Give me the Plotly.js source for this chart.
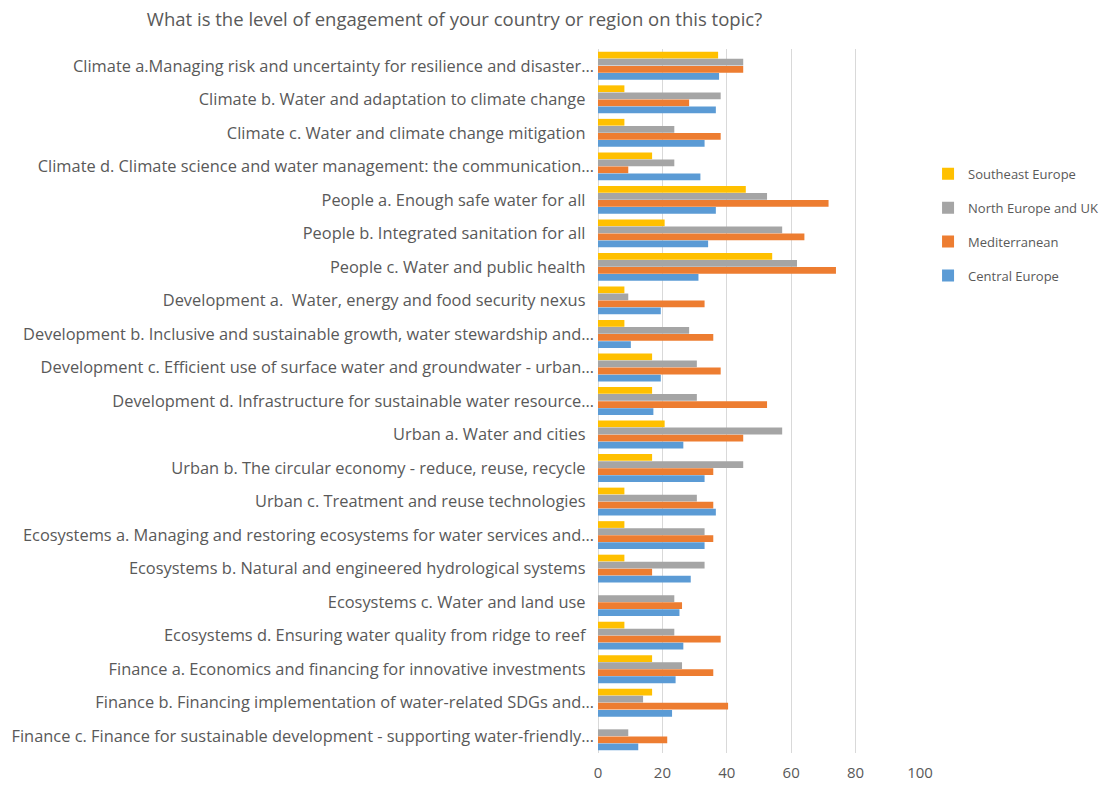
<!DOCTYPE html>
<html>
<head>
<meta charset="utf-8">
<script src="https://cdn.plot.ly/plotly-3.0.1.min.js"></script>
<style>
  html, body { margin: 0; padding: 0; background: #ffffff; }
  #chart { width: 1114px; height: 785px; }
</style>
</head>
<body>
<div id="chart"></div>
<script>
const categories = [
  "Climate a.Managing risk and uncertainty for resilience and disaster…",
  "Climate b. Water and adaptation to climate change\u00a0\u00a0",
  "Climate c. Water and climate change mitigation\u00a0\u00a0",
  "Climate d. Climate science and water management: the communication…",
  "People a. Enough safe water for all\u00a0\u00a0",
  "People b. Integrated sanitation for all\u00a0\u00a0",
  "People c. Water and public health\u00a0\u00a0",
  "Development a.  Water, energy and food security nexus\u00a0\u00a0",
  "Development b. Inclusive and sustainable growth, water stewardship and…",
  "Development c. Efficient use of surface water and groundwater - urban…",
  "Development d. Infrastructure for sustainable water resource…",
  "Urban a. Water and cities\u00a0\u00a0",
  "Urban b. The circular economy - reduce, reuse, recycle\u00a0\u00a0",
  "Urban c. Treatment and reuse technologies\u00a0\u00a0",
  "Ecosystems a. Managing and restoring ecosystems for water services and…",
  "Ecosystems b. Natural and engineered hydrological systems\u00a0\u00a0",
  "Ecosystems c. Water and land use\u00a0\u00a0",
  "Ecosystems d. Ensuring water quality from ridge to reef\u00a0\u00a0",
  "Finance a. Economics and financing for innovative investments\u00a0\u00a0",
  "Finance b. Financing implementation of water-related SDGs and…",
  "Finance c. Finance for sustainable development - supporting water-friendly…"
];

const seriesNames = ["Southeast Europe", "North Europe and UK", "Mediterranean", "Central Europe"];

const southeastEurope = [37.3, 8.2, 8.2, 16.8, 45.9, 20.7, 54.1, 8.2, 8.2, 16.8, 16.8, 20.7, 16.8, 8.2, 8.2, 8.2, 0, 8.2, 16.8, 16.8, 0];
const northEuropeUK   = [45.1, 38.1, 23.7, 23.7, 52.5, 57.2, 61.8, 9.4, 28.3, 30.7, 30.7, 57.2, 45.1, 30.7, 33.1, 33.1, 23.7, 23.7, 26.1, 14.0, 9.4];
const mediterranean   = [45.1, 28.3, 38.1, 9.4, 71.6, 64.1, 73.9, 33.1, 35.8, 38.1, 52.5, 45.1, 35.8, 35.8, 35.8, 16.8, 26.1, 38.1, 35.8, 40.4, 21.5];
const centralEurope   = [37.6, 36.6, 33.1, 31.8, 36.6, 34.2, 31.2, 19.5, 10.2, 19.5, 17.2, 26.5, 33.1, 36.6, 33.1, 28.8, 25.3, 26.5, 24.1, 23.0, 12.5];

const xTickValues = [0, 20, 40, 60, 80, 100];

const seriesValues = [southeastEurope, northEuropeUK, mediterranean, centralEurope];
const seriesColors = ["#FFC000", "#A5A5A5", "#ED7D31", "#5B9BD5"];

const fontFamily = "'Open Sans', Lato, sans-serif";
const textColor = "#595959";

const traces = seriesNames.map((name, i) => ({
  type: "bar",
  orientation: "h",
  name: name,
  x: seriesValues[i],
  y: categories,
  marker: { color: seriesColors[i] },
  legendgroup: "g" + i,
  hoverinfo: "x+name"
}));

const layout = {
  width: 1114,
  height: 785,
  paper_bgcolor: "#ffffff",
  plot_bgcolor: "#ffffff",
  margin: { l: 598, r: 194, t: 49, b: 32, autoexpand: false },
  barmode: "group",
  bargap: 0.16,
  bargroupgap: 0.04,
  font: { family: fontFamily, color: textColor, size: 14 },
  title: {
    text: "What is the level of engagement of your country or region on this topic?",
    font: { family: fontFamily, size: 18.5, color: textColor },
    xref: "container",
    x: 0.408,
    xanchor: "center",
    yref: "container",
    y: 0.975,
    yanchor: "middle"
  },
  xaxis: {
    range: [0, 100],
    tickvals: xTickValues,
    ticktext: xTickValues.map(String),
    showgrid: true,
    gridcolor: "#d9d9d9",
    gridwidth: 1,
    zeroline: true,
    zerolinecolor: "#d9d9d9",
    showline: false,
    ticks: "",
    ticklabelstandoff: 9,
    tickfont: { family: fontFamily, size: 15, color: textColor },
    fixedrange: true
  },
  yaxis: {
    type: "category",
    autorange: "reversed",
    showgrid: false,
    zeroline: false,
    showline: false,
    ticks: "",
    ticklabelstandoff: 3,
    tickfont: { family: fontFamily, size: 16.4, color: textColor },
    fixedrange: true
  },
  showlegend: true,
  legend: {
    traceorder: "grouped",
    tracegroupgap: 14,
    x: 1.025,
    xanchor: "left",
    y: 0.844,
    yanchor: "top",
    font: { family: fontFamily, size: 13, color: textColor },
    bgcolor: "rgba(0,0,0,0)",
    itemwidth: 30
  }
};

Plotly.newPlot("chart", traces, layout, { displayModeBar: false, staticPlot: true });
</script>
</body>
</html>
